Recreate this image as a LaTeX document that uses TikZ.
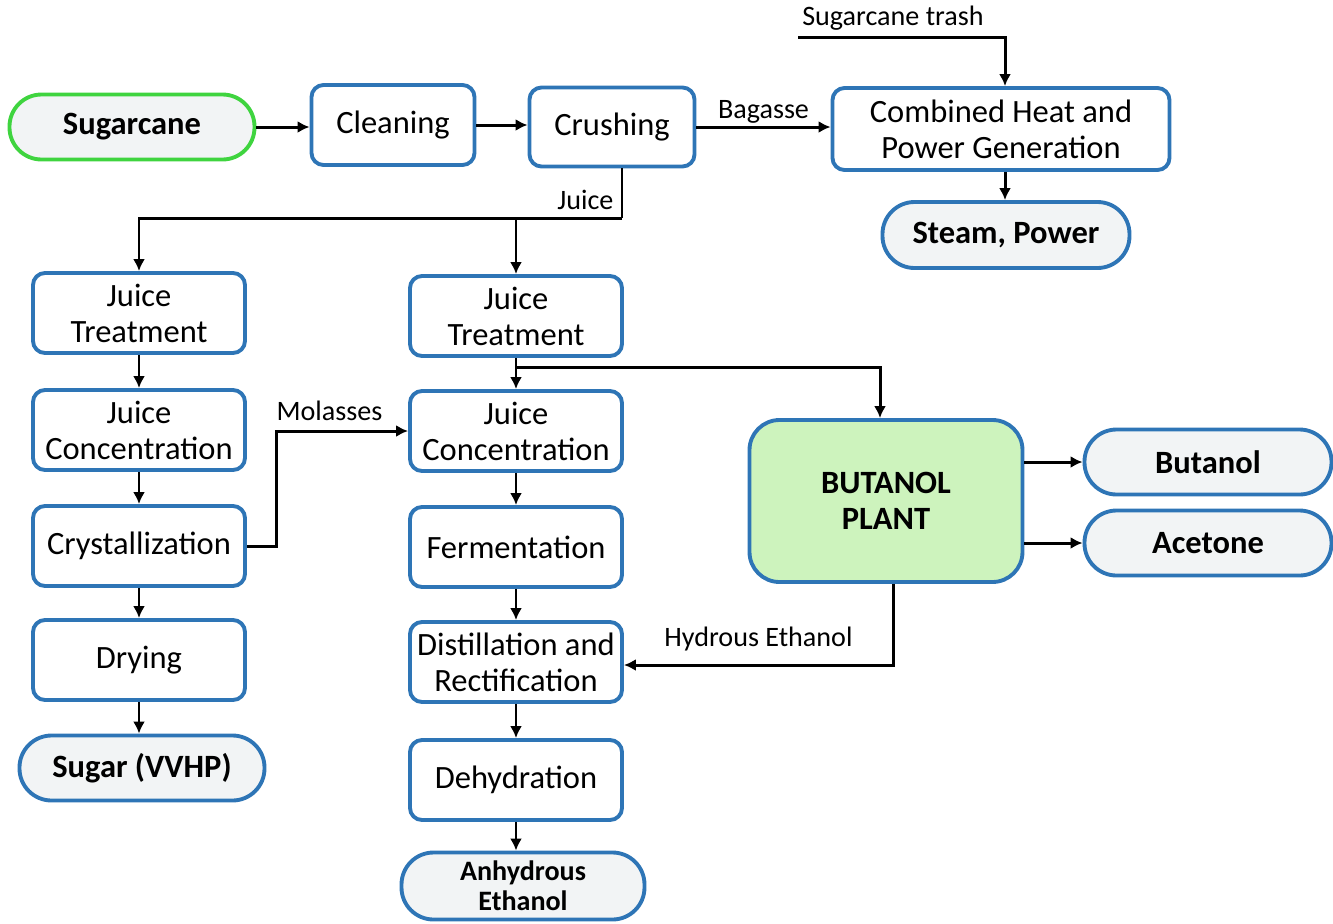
\documentclass[tikz,border=0pt]{standalone}
\usepackage{fontspec}
\setmainfont{Carlito}
\usepackage{xcolor}
\usepackage{tikz}
\usetikzlibrary{positioning,arrows.meta}
\definecolor{boxblue}{HTML}{2E75B6}
\definecolor{canegreen}{HTML}{3FD43F}
\definecolor{plantfill}{HTML}{CDF3BD}
\definecolor{termfill}{HTML}{F2F4F5}

\begin{document}
\begin{tikzpicture}[
    proc/.style={draw=boxblue, line width=2.2pt, fill=white, rounded corners=0.24cm, minimum width=4.24cm, minimum height=1.6cm, align=center, inner sep=2pt, font=\fontsize{18.5}{20.5}\selectfont},
    term/.style={draw=boxblue, line width=2.2pt, fill=termfill, rounded corners=0.64cm, minimum width=4.9cm, minimum height=1.3cm, align=center, inner sep=2pt, font=\bfseries\fontsize{18.5}{20.5}\selectfont},
    lbl/.style={font=\fontsize{16}{18}\selectfont, inner sep=1pt},
    flow/.style={line width=1.7pt, -{Latex[length=2.4mm,width=2.4mm]}},
    feed/.style={line width=1.7pt}
]
    \useasboundingbox (0,0) rectangle (26.66,-18.46);

    % top row
    \node[term, draw=canegreen] (sugarcane) at (2.64,-2.54) {Sugarcane};
    \node[proc, minimum width=3.26cm] (cleaning) at (7.86,-2.50) {Cleaning};
    \node[proc, minimum width=3.30cm, minimum height=1.58cm] (crushing) at (12.24,-2.54) {Crushing};
    \node[proc, minimum width=6.74cm, minimum height=1.64cm] (chp) at (20.02,-2.58) {Combined Heat and\\Power Generation};
    \node[term, minimum width=4.94cm, minimum height=1.32cm] (steam) at (20.12,-4.70) {Steam, Power};

    % sugar line
    \node[proc] (ljt) at (2.78,-6.26) {Juice\\Treatment};
    \node[proc] (ljc) at (2.78,-8.60) {Juice\\Concentration};
    \node[proc] (cryst) at (2.78,-10.92) {Crystallization};
    \node[proc] (drying) at (2.78,-13.20) {Drying};
    \node[term] (sugar) at (2.84,-15.36) {Sugar (VVHP)};

    % ethanol line
    \node[proc] (mjt) at (10.32,-6.32) {Juice\\Treatment};
    \node[proc] (mjc) at (10.32,-8.62) {Juice\\Concentration};
    \node[proc] (ferm) at (10.32,-10.94) {Fermentation};
    \node[proc] (dist) at (10.32,-13.24) {Distillation and\\Rectification};
    \node[proc] (dehyd) at (10.32,-15.60) {Dehydration};
    \node[term, minimum width=4.86cm, minimum height=1.34cm, font=\bfseries\fontsize{16}{17}\selectfont] (anhyd) at (10.46,-17.72) {Anhydrous\\Ethanol};

    % butanol plant
    \node[proc, fill=plantfill, rounded corners=0.6cm, minimum width=5.46cm, minimum height=3.24cm, font=\bfseries\fontsize{18.5}{20.5}\selectfont] (plant) at (17.72,-10.02) {BUTANOL\\PLANT};
    \node[term, minimum width=4.94cm] (butanol) at (24.16,-9.24) {Butanol};
    \node[term, minimum width=4.94cm] (acetone) at (24.16,-10.86) {Acetone};

    % connectors
    \draw[flow] (sugarcane.east) -- (cleaning.west |- sugarcane.east);
    \draw[flow] (cleaning.east) -- (crushing.west |- cleaning.east);
    \draw[flow] (crushing.east) -- node[lbl, above] (lblbagasse) {Bagasse} (chp.west |- crushing.east);

    \coordinate (trashin) at (15.96,-0.74);
    \node[lbl] (lbltrash) at (17.86,-0.36) {Sugarcane trash};
    \draw[flow] (trashin) -| ([xshift=0.08cm]chp.north);
    \draw[flow] ([xshift=0.08cm]chp.south) -- ([xshift=0.08cm]chp.south |- steam.north);

    \draw[feed] ([xshift=0.2cm]crushing.south) -- node[lbl, left=3pt, pos=0.62] (lbljuice) {Juice} ++(0,-1.0) coordinate (jsplit);
    \draw[flow] (jsplit) -| (ljt.north);
    \draw[flow] (mjt.north |- jsplit) -- (mjt.north);

    \foreach \a/\b in {ljt/ljc, ljc/cryst, cryst/drying, mjt/mjc, mjc/ferm, ferm/dist, dist/dehyd}
        \draw[flow] (\a) -- (\b);
    \draw[flow] (drying.south) -- (drying.south |- sugar.north);
    \draw[flow] (dehyd.south) -- (dehyd.south |- anhyd.north);

    \draw[flow] (cryst.east) -- ++(0.6,0) |- node[lbl, above=4pt, pos=0.7] (lblmolasses) {Molasses} (mjc.west);
    \draw[flow] ([yshift=-0.2cm]mjt.south) -| ([xshift=-0.12cm]plant.north);

    \draw[flow] (plant.east |- butanol) -- (butanol.west);
    \draw[flow] (plant.east |- acetone) -- (acetone.west);
    \draw[flow] ([xshift=0.14cm]plant.south) |- node[lbl, above=6pt, pos=0.75] (lblhydrous) {Hydrous Ethanol} ([yshift=-0.06cm]dist.east);
\end{tikzpicture}
\end{document}
